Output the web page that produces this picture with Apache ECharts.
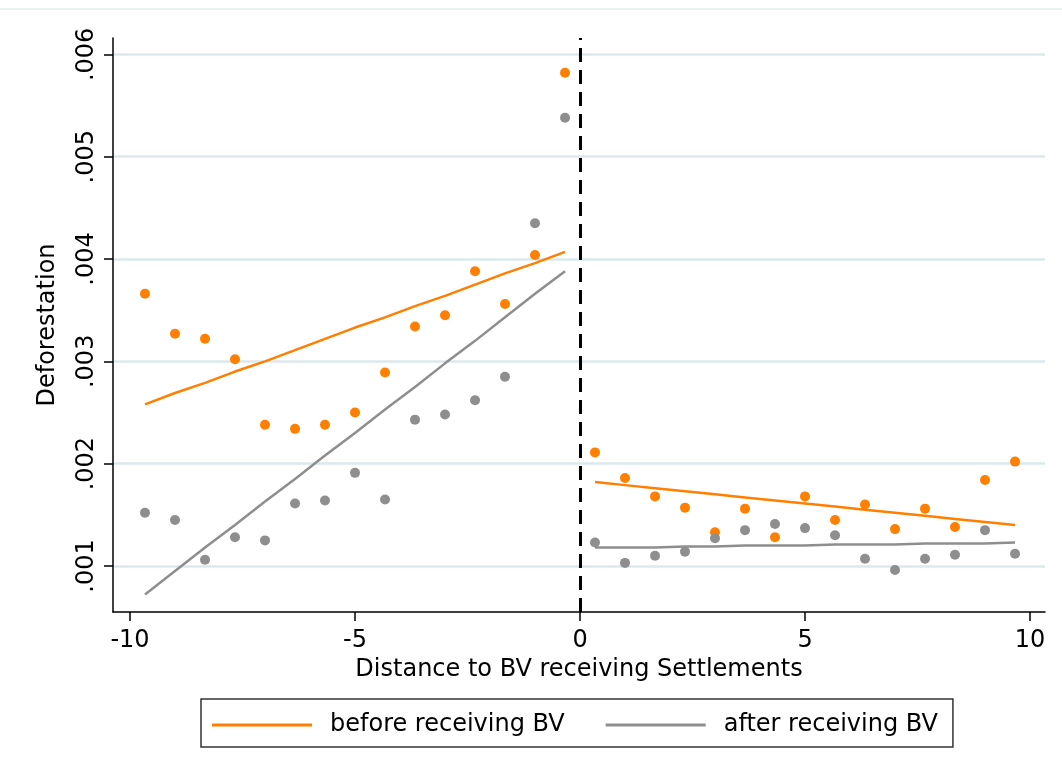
<!DOCTYPE html>
<html><head><meta charset="utf-8">
<script src="https://cdn.jsdelivr.net/npm/echarts@6/dist/echarts.min.js"></script>
<style>html,body{margin:0;padding:0;background:#fff}#c{width:1062px;height:778px}</style>
</head><body><div id="c"></div>
<script>
// Bin centres (distance to BV receiving settlements)
const leftX  = [-9.667,-9.0,-8.333,-7.667,-7.0,-6.333,-5.667,-5.0,-4.333,-3.667,-3.0,-2.333,-1.667,-1.0,-0.333];
const rightX = [0.333,1.0,1.667,2.333,3.0,3.667,4.333,5.0,5.667,6.333,7.0,7.667,8.333,9.0,9.667];

// Binned means (dots)
const beforeDotsLeft  = [0.00366,0.00327,0.00322,0.00302,0.00238,0.00234,0.00238,0.00250,0.00289,0.00334,0.00345,0.00388,0.00356,0.00404,0.00582];
const afterDotsLeft   = [0.00152,0.00145,0.00106,0.00128,0.00125,0.00161,0.00164,0.00191,0.00165,0.00243,0.00248,0.00262,0.00285,0.00435,0.00538];
const beforeDotsRight = [0.00211,0.00186,0.00168,0.00157,0.00133,0.00156,0.00128,0.00168,0.00145,0.00160,0.00136,0.00156,0.00138,0.00184,0.00202];
const afterDotsRight  = [0.00123,0.00103,0.00110,0.00114,0.00127,0.00135,0.00141,0.00137,0.00130,0.00107,0.00096,0.00107,0.00111,0.00135,0.00112];

// Fitted lines
const beforeFitLeft  = [0.00258,0.00269,0.00279,0.00290,0.00300,0.00311,0.00322,0.00333,0.00343,0.00354,0.00364,0.00375,0.00386,0.00396,0.00407];
const afterFitLeft   = [0.00072,0.00095,0.00118,0.00140,0.00163,0.00185,0.00208,0.00230,0.00253,0.00275,0.00298,0.00320,0.00343,0.00366,0.00388];
const beforeFitRight = [0.00182,0.00179,0.00176,0.00173,0.00170,0.00167,0.00164,0.00161,0.00158,0.00155,0.00152,0.00149,0.00146,0.00143,0.00140];
const afterFitRight  = [0.00118,0.00118,0.00118,0.00119,0.00119,0.00120,0.00120,0.00120,0.00121,0.00121,0.00121,0.00122,0.00122,0.00122,0.00123];

const yTicks = [0.001,0.002,0.003,0.004,0.005,0.006];
const xTicks = [-10,-5,0,5,10];
const cutoff = 0;

const seriesNames = ['before receiving BV','after receiving BV'];
const ORANGE = '#ff7f00', GRAY = '#8e8e8e';
const FONT = 'DejaVu Sans';

const zip = (xs, ys) => xs.map((x, i) => [x, ys[i]]);

const chart = echarts.init(document.getElementById('c'), null, {renderer: 'canvas'});

const scatter = (name, xs, ys, color) => ({
  name, type: 'scatter', data: zip(xs, ys), symbol: 'circle', symbolSize: 10,
  itemStyle: {color, opacity: 1}, silent: true, z: 3
});
const fit = (name, xs, ys, color) => ({
  name, type: 'line', data: zip(xs, ys), showSymbol: false, symbol: 'none',
  lineStyle: {color, width: 2.5}, itemStyle: {color}, silent: true, z: 4
});

chart.setOption({
  animation: false,
  backgroundColor: '#fff',
  textStyle: {fontFamily: FONT},
  graphic: [{type: 'line', shape: {x1: 0, y1: 9, x2: 1062, y2: 9}, style: {stroke: '#e3ecee', lineWidth: 1.5}, silent: true}],
  grid: {left: 113, right: 17, top: 38, bottom: 166, containLabel: false},
  xAxis: {
    type: 'value', min: -10.378, max: 10.333,
    axisLine: {show: true, onZero: false, lineStyle: {color: '#000', width: 1.5}},
    axisTick: {show: true, length: 9, lineStyle: {color: '#000', width: 1.5}, customValues: xTicks},
    axisLabel: {customValues: xTicks, color: '#000', fontSize: 24, fontFamily: FONT, margin: 17},
    splitLine: {show: false},
    name: 'Distance to BV receiving Settlements', nameLocation: 'middle', nameGap: 44,
    nameTextStyle: {color: '#000', fontSize: 24, fontFamily: FONT}
  },
  yAxis: {
    type: 'value', min: 0.00055, max: 0.00616, splitNumber: 5,
    axisLine: {show: true, onZero: false, lineStyle: {color: '#000', width: 1.5}},
    axisTick: {show: true, length: 9, lineStyle: {color: '#000', width: 1.5}, customValues: yTicks},
    axisLabel: {customValues: yTicks, rotate: 90, color: '#000', fontSize: 24, fontFamily: FONT, margin: 14,
      formatter: v => v.toFixed(3).replace(/^0/, '')},
    splitLine: {show: true, showMinLine: true, showMaxLine: true, lineStyle: {color: '#dde8eb', width: 2.5}},
    name: 'Deforestation', nameLocation: 'middle', nameGap: 53, nameRotate: 90,
    nameTextStyle: {color: '#000', fontSize: 24, fontFamily: FONT}
  },
  legend: {
    left: 201, top: 699, orient: 'horizontal',
    data: seriesNames.map(n => ({name: n, icon: 'rect'})),
    itemWidth: 100, itemHeight: 3, itemGap: 41,
    padding: [14, 15, 10, 11],
    borderColor: '#333', borderWidth: 1.5,
    textStyle: {color: '#000', fontSize: 24, fontFamily: FONT, lineHeight: 24, padding: [0, 0, 0, 13]},
    selectedMode: false
  },
  series: [
    {
      name: 'cutoff', type: 'line', data: [], silent: true, z: 2,
      markLine: {
        silent: true, symbol: 'none', animation: false,
        label: {show: false},
        lineStyle: {color: '#000', width: 3, type: [14, 8]},
        data: [{xAxis: cutoff}]
      }
    },
    scatter('before dots L', leftX, beforeDotsLeft, ORANGE),
    scatter('after dots L', leftX, afterDotsLeft, GRAY),
    scatter('before dots R', rightX, beforeDotsRight, ORANGE),
    scatter('after dots R', rightX, afterDotsRight, GRAY),
    fit(seriesNames[0], leftX, beforeFitLeft, ORANGE),
    fit(seriesNames[1], leftX, afterFitLeft, GRAY),
    fit(seriesNames[0], rightX, beforeFitRight, ORANGE),
    fit(seriesNames[1], rightX, afterFitRight, GRAY)
  ]
});
</script>
</body></html>
